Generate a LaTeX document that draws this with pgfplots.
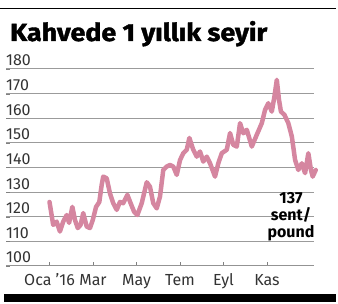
\documentclass[border=0pt]{standalone}
\usepackage{fontspec}
\setmainfont{Fira Sans}
\usepackage{pgfplots}
\pgfplotsset{compat=1.18}
\definecolor{coffee}{RGB}{213,134,160}
\definecolor{gridc}{RGB}{120,120,120}
\definecolor{gridl}{RGB}{155,155,155}
\begin{document}
\begin{tikzpicture}
\path[use as bounding box] (0pt,0pt) rectangle (338pt,304pt);
\draw[black, line width=1pt] (0pt,295pt) -- (336pt,295pt);
\fill[black] (4pt,2pt) rectangle (336pt,10pt);
\node[anchor=base west, inner sep=0pt] at (10pt,263pt) {\resizebox{257pt}{20pt}{\bfseries\addfontfeature{FakeBold=1.5}Kahvede 1 yıllık seyir}};
\begin{axis}[
  at={(6pt,38pt)}, anchor=south west,
  scale only axis, width=308pt, height=197pt,
  xmin=-2, xmax=12.16, ymin=100, ymax=180,
  clip=false,
  axis x line*=bottom, axis y line*=left,
  x axis line style={gridc!80, line width=1pt, -},
  y axis line style={draw=none, -},
  ytick={100,110,120,130,140,150,160,170,180},
  ymajorgrids=true,
  grid style={gridl, solid, line width=1pt},
  xtick={0,2,4,6,8,10},
  xticklabels={Oca ’16, Mar, May, Tem, Eyl, Kas},
  /pgf/number format/assume math mode=true,
  tick label style={font=\fontsize{16}{18}\selectfont, text=black!80},
  yticklabel style={anchor=base west, inner sep=0pt, yshift=3pt, xshift=0pt},
  xticklabel style={anchor=base, inner sep=0pt, yshift=-20pt},
]
\addplot[coffee, line width=4.5pt, line join=round, line cap=round] coordinates {
(0.00,126) (0.17,116.7) (0.33,118) (0.48,114) (0.63,118) (0.79,120.7) (0.90,117.5)
(1.05,124) (1.17,118.7) (1.30,115.4) (1.43,116.7) (1.55,121.5) (1.71,116) (1.86,115.4)
(1.99,118.7) (2.14,124) (2.29,126) (2.40,133) (2.47,136.3) (2.63,135.6) (2.78,129.5)
(2.93,125.5) (3.09,122.8) (3.24,126) (3.39,125.5) (3.58,128.9) (3.73,125.5) (3.89,122)
(4.04,120.7) (4.24,125.5) (4.47,134) (4.62,132.2) (4.77,125.5) (4.93,123.4) (5.08,128.2)
(5.23,139) (5.39,140.4) (5.54,141) (5.69,140.4) (5.85,137) (6.00,143) (6.15,145.8)
(6.31,147.2) (6.43,152) (6.61,147.2) (6.77,144.4) (6.92,146.5) (7.07,142.4) (7.23,144.4)
(7.38,141.7) (7.61,136.3) (7.76,141.7) (7.92,145.8) (8.15,147.2) (8.30,154) (8.45,149.2)
(8.61,148.5) (8.76,158) (8.91,153.9) (9.07,155.3) (9.30,148.5) (9.53,153.3) (9.76,158)
(9.91,163.4) (10.06,166.1) (10.22,162.7) (10.34,168.8) (10.45,175.6) (10.55,167.5)
(10.64,162.7) (10.80,161.4) (10.98,158) (11.14,152.6) (11.29,143.1) (11.44,139)
(11.60,141.7) (11.75,137.7) (11.90,145.8) (12.02,139) (12.10,136.3) (12.24,139)
};
\end{axis}
\node[align=center, anchor=north, inner sep=0pt, font=\bfseries\fontsize{16}{17}\selectfont] at (291pt,112pt) {137\\sent/\\pound};
\end{tikzpicture}
\end{document}
